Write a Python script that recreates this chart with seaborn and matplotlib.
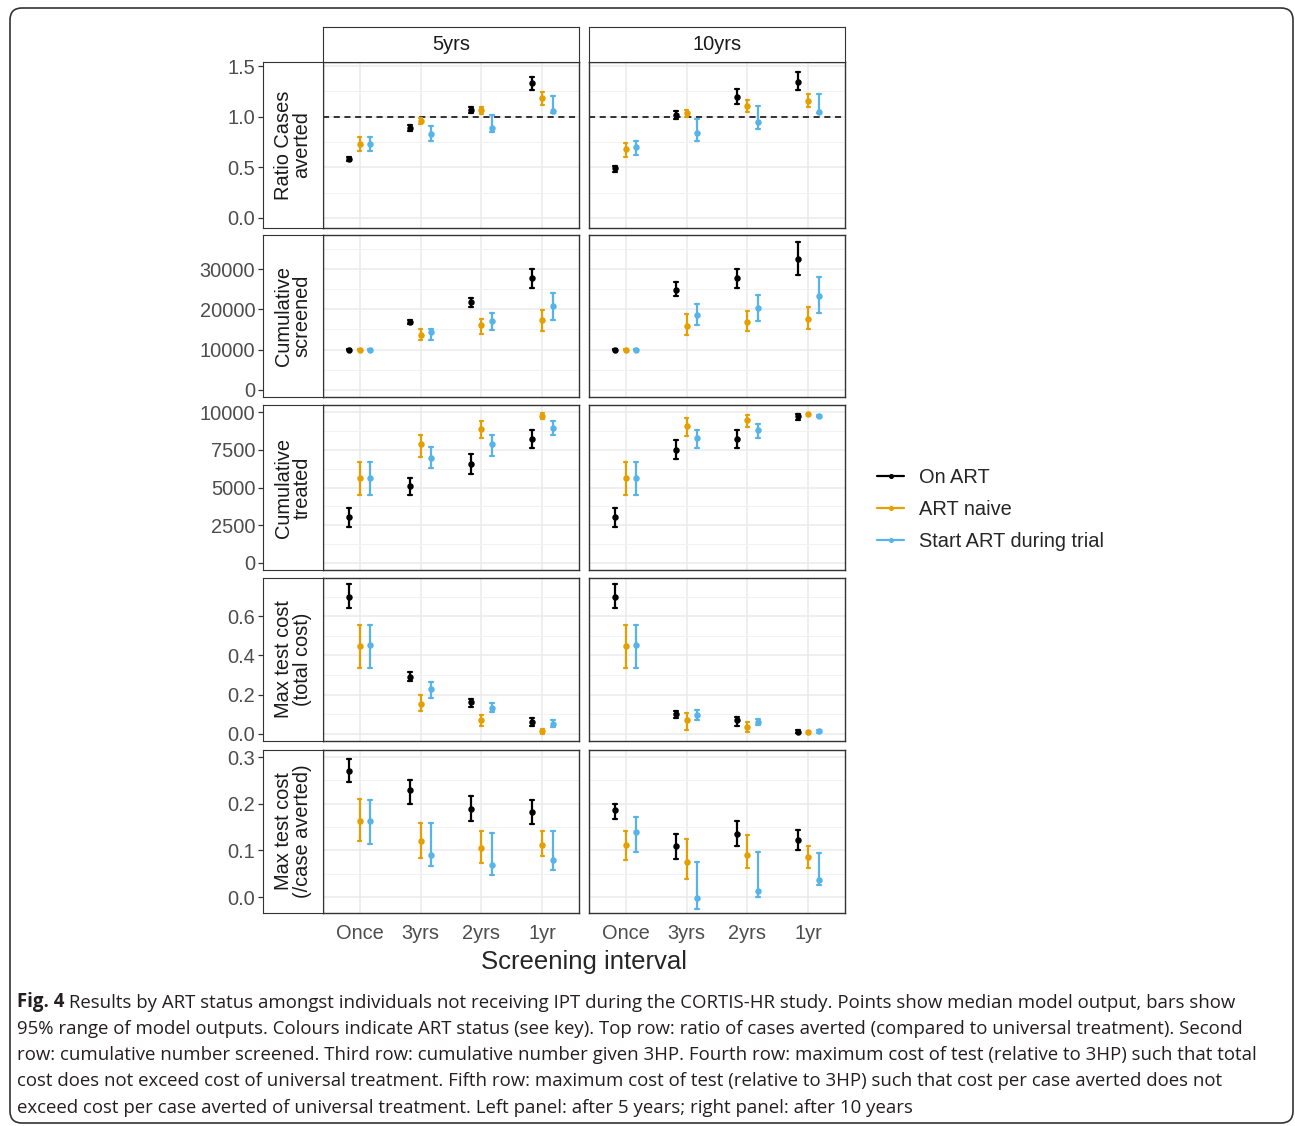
import pandas as pd
import matplotlib.pyplot as plt
import seaborn as sns
from matplotlib.lines import Line2D
from matplotlib.patches import FancyBboxPatch
from matplotlib.ticker import FixedLocator, FormatStrFormatter

# categories
intervals = ["Once", "3yrs", "2yrs", "1yr"]
horizons = ["5yrs", "10yrs"]
statuses = ["On ART", "ART naive", "Start ART during trial"]
colours = ["#000000", "#E69F00", "#56B4E9"]

# values are [horizon][status][interval]: median, lower and upper end of the 95% range
ratio_med = [[[0.58, 0.89, 1.07, 1.33], [0.73, 0.96, 1.065, 1.18], [0.73, 0.83, 0.89, 1.06]],
             [[0.49, 1.02, 1.19, 1.34], [0.68, 1.04, 1.11, 1.15], [0.70, 0.84, 0.95, 1.05]]]
ratio_lo = [[[0.56, 0.86, 1.04, 1.26], [0.66, 0.93, 1.03, 1.12], [0.66, 0.76, 0.85, 1.04]],
            [[0.45, 0.98, 1.13, 1.26], [0.60, 1.00, 1.05, 1.10], [0.62, 0.76, 0.88, 1.04]]]
ratio_hi = [[[0.60, 0.92, 1.10, 1.39], [0.80, 0.99, 1.10, 1.24], [0.80, 0.91, 1.02, 1.20]],
            [[0.51, 1.06, 1.27, 1.44], [0.74, 1.07, 1.16, 1.22], [0.76, 0.98, 1.11, 1.22]]]

screened_med = [[[10000, 16830, 21830, 27830], [10000, 13670, 16000, 17420], [10000, 14330, 17000, 20830]],
                [[10000, 24920, 27830, 32500], [10000, 15830, 16830, 17670], [10000, 18670, 20420, 23250]]]
screened_lo = [[[9900, 16250, 20500, 25330], [9900, 12500, 13920, 14580], [9900, 12500, 14750, 17420]],
               [[9900, 23330, 25330, 28500], [9900, 13500, 14500, 15170], [9900, 16000, 17000, 19170]]]
screened_hi = [[[10100, 17250, 22830, 29920], [10100, 15170, 17670, 19750], [10100, 15170, 19170, 24080]],
               [[10100, 26830, 29920, 36830], [10100, 18920, 19500, 20580], [10100, 21330, 23670, 28080]]]

treated_med = [[[3060, 5080, 6550, 8230], [5660, 7890, 8900, 9770], [5660, 6930, 7890, 8940]],
               [[3060, 7490, 8230, 9730], [5660, 9060, 9460, 9900], [5660, 8270, 8790, 9770]]]
treated_lo = [[[2390, 4470, 5880, 7600], [4470, 7000, 8270, 9550], [4470, 6260, 7090, 8450]],
              [[2390, 6860, 7600, 9500], [4470, 8390, 9010, 9850], [4470, 7600, 8270, 9700]]]
treated_hi = [[[3620, 5660, 7220, 8830], [6710, 8500, 9390, 9950], [6710, 7710, 8500, 9390]],
              [[3620, 8120, 8830, 9880], [6710, 9610, 9840, 9950], [6710, 8830, 9230, 9830]]]

total_med = [[[0.70, 0.29, 0.163, 0.063], [0.446, 0.154, 0.069, 0.014], [0.451, 0.228, 0.134, 0.051]],
             [[0.70, 0.103, 0.069, 0.012], [0.446, 0.069, 0.034, 0.009], [0.451, 0.098, 0.063, 0.014]]]
total_lo = [[[0.643, 0.269, 0.137, 0.043], [0.334, 0.115, 0.043, 0.002], [0.334, 0.184, 0.111, 0.034]],
            [[0.643, 0.081, 0.043, 0.004], [0.334, 0.022, 0.009, 0.002], [0.334, 0.072, 0.046, 0.006]]]
total_hi = [[[0.763, 0.314, 0.177, 0.081], [0.557, 0.20, 0.098, 0.026], [0.557, 0.266, 0.158, 0.069]],
            [[0.763, 0.115, 0.086, 0.02], [0.557, 0.106, 0.06, 0.017], [0.557, 0.12, 0.077, 0.022]]]

case_med = [[[0.271, 0.229, 0.188, 0.182], [0.164, 0.12, 0.106, 0.112], [0.163, 0.091, 0.068, 0.08]],
            [[0.187, 0.109, 0.136, 0.123], [0.111, 0.076, 0.091, 0.086], [0.139, -0.001, 0.014, 0.037]]]
case_lo = [[[0.246, 0.199, 0.163, 0.157], [0.12, 0.084, 0.073, 0.088], [0.114, 0.066, 0.048, 0.059]],
           [[0.168, 0.082, 0.109, 0.10], [0.08, 0.038, 0.063, 0.063], [0.096, -0.025, 0.0, 0.026]]]
case_hi = [[[0.296, 0.251, 0.216, 0.207], [0.211, 0.159, 0.141, 0.141], [0.207, 0.159, 0.137, 0.141]],
           [[0.20, 0.136, 0.163, 0.144], [0.141, 0.125, 0.132, 0.109], [0.171, 0.076, 0.096, 0.094]]]

row_labels = ["Ratio Cases\naverted", "Cumulative\nscreened", "Cumulative\ntreated",
              "Max test cost\n(total cost)", "Max test cost\n(/case averted)"]
row_ticks = [[0.0, 0.5, 1.0, 1.5], [0, 10000, 20000, 30000], [0, 2500, 5000, 7500, 10000],
             [0.0, 0.2, 0.4, 0.6], [0.0, 0.1, 0.2, 0.3]]

caption = [
    " Results by ART status amongst individuals not receiving IPT during the CORTIS-HR study. Points show median model output, bars show",
    "95% range of model outputs. Colours indicate ART status (see key). Top row: ratio of cases averted (compared to universal treatment). Second",
    "row: cumulative number screened. Third row: cumulative number given 3HP. Fourth row: maximum cost of test (relative to 3HP) such that total",
    "cost does not exceed cost of universal treatment. Fifth row: maximum cost of test (relative to 3HP) such that cost per case averted does not",
    "exceed cost per case averted of universal treatment. Left panel: after 5 years; right panel: after 10 years",
]

metrics = [(ratio_lo, ratio_med, ratio_hi), (screened_lo, screened_med, screened_hi),
           (treated_lo, treated_med, treated_hi), (total_lo, total_med, total_hi),
           (case_lo, case_med, case_hi)]

# long table: lo/med/hi per cell, so median + full range gives the point and bar
recs = []
for m, (lo, med, hi) in enumerate(metrics):
    for h, hz in enumerate(horizons):
        for s, st in enumerate(statuses):
            for i, iv in enumerate(intervals):
                for v in (lo[h][s][i], med[h][s][i], hi[h][s][i]):
                    recs.append((m, hz, st, iv, v))
df = pd.DataFrame(recs, columns=["metric", "horizon", "status", "interval", "value"])

sns.set_style("white")
plt.rcParams['font.family'] = ['Liberation Sans', 'DejaVu Sans']

W, H = 1295, 1126
fig = plt.figure(figsize=(W / 100, H / 100), dpi=100)


def px_axes(x0, y0, x1, y1):
    return fig.add_axes([x0 / W, 1 - y1 / H, (x1 - x0) / W, (y1 - y0) / H])


rows = [(62, 228), (235, 397), (405, 570), (578, 741), (750, 913)]
cols = [(323, 579), (589, 845)]
ylims = [(-0.1, 1.54), (-1800, 38500), (-470, 10470), (-0.036, 0.795), (-0.034, 0.315)]
fmts = ["%.1f", "%d", "%d", "%.1f", "%.1f"]
border = "#333333"
grid_c = "#EBEBEB"

for r in range(5):
    ticks = row_ticks[r]
    step = ticks[1] - ticks[0]
    minors = [t + step / 2 for t in ticks]
    for c in range(2):
        ax = px_axes(cols[c][0], rows[r][0], cols[c][1], rows[r][1])
        sub = df[(df.metric == r) & (df.horizon == horizons[c])]
        sns.pointplot(data=sub, x="interval", y="value", hue="status", order=intervals,
                      hue_order=statuses, palette=colours, estimator="median",
                      errorbar=("pi", 100), dodge=0.35, linestyle="none", marker="o",
                      markersize=2.6, capsize=0.06, err_kws={"linewidth": 1.6},
                      legend=False, ax=ax)
        ax.set_xlim(-0.6, 3.6)
        ax.set_ylim(*ylims[r])
        ax.yaxis.set_major_locator(FixedLocator(ticks))
        ax.yaxis.set_minor_locator(FixedLocator(minors))
        ax.set_axisbelow(True)
        ax.grid(True, which="major", color=grid_c, lw=1.1)
        ax.grid(True, which="minor", axis="y", color="#F2F2F2", lw=0.7)
        ax.set_xlabel("")
        ax.set_ylabel("")
        ax.tick_params(axis="y", which="both", left=False, labelleft=False)
        for sp in ax.spines.values():
            sp.set_color(border)
            sp.set_linewidth(1.0)
        if r == 0:
            ax.axhline(1.0, ls=(0, (4, 3)), color="black", lw=1.1, zorder=1.5)
            strip = px_axes(cols[c][0], 27, cols[c][1], 62)
            strip.set_xticks([])
            strip.set_yticks([])
            for sp in strip.spines.values():
                sp.set_color(border)
            strip.text(0.5, 0.5, horizons[c], ha="center", va="center", fontsize=14.4,
                       color="#1A1A1A", transform=strip.transAxes)
        if r == 4:
            ax.tick_params(axis="x", length=3.5, width=0.9, color=border,
                           labelcolor="#4D4D4D", labelsize=14.4, pad=4.5)
        else:
            ax.tick_params(axis="x", bottom=False, labelbottom=False)

    # row strip with the y axis on its outer side
    s = px_axes(263, rows[r][0], 323, rows[r][1])
    s.set_ylim(*ylims[r])
    s.set_xticks([])
    s.yaxis.set_major_locator(FixedLocator(ticks))
    s.yaxis.set_major_formatter(FormatStrFormatter(fmts[r]))
    s.tick_params(axis="y", left=True, length=3.5, width=0.9, color=border,
                  labelcolor="#4D4D4D", labelsize=14.4, pad=2)
    for sp in s.spines.values():
        sp.set_color(border)
    s.text(0.5, 0.5, row_labels[r], rotation=90, ha="center", va="center",
           multialignment="center", linespacing=0.95, fontsize=14.4, color="#1A1A1A",
           transform=s.transAxes)

fig.text(584 / W, 1 - 962 / H, "Screening interval", ha="center", va="center", fontsize=18.5)

handles = [Line2D([], [], color=col, lw=1.6, marker="o", markersize=2.6) for col in colours]
fig.legend(handles, statuses, loc="upper left", bbox_to_anchor=(877 / W, 1 - 468 / H),
           frameon=False, fontsize=14.4, handlelength=1.35, handletextpad=0.75,
           labelspacing=0.65, borderpad=0, borderaxespad=0)

# caption under the chart
cap_font = dict(family=["Open Sans", "DejaVu Sans"], fontsize=13.4, color="#231F20")
head = fig.text(17 / W, 1 - 1007 / H, "Fig. 4", va="baseline", fontweight="bold", **cap_font)
ax.annotate(caption[0], xy=(1, 0), xycoords=head, va="bottom", ha="left",
            annotation_clip=False, **cap_font)
for k, line in enumerate(caption[1:], start=1):
    fig.text(17 / W, 1 - (1007 + 26.5 * k) / H, line, va="baseline", **cap_font)

frame = FancyBboxPatch((0.10, 0.03), 12.83, 11.15, boxstyle="round,pad=0,rounding_size=0.12",
                       transform=fig.dpi_scale_trans, fill=False, ec=border, lw=1.2)
fig.add_artist(frame)

fig.savefig("out.png", dpi=100)
